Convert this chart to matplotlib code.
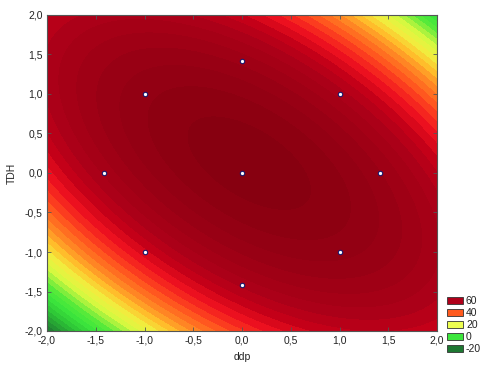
import numpy as np
import matplotlib
matplotlib.use("Agg")
import matplotlib.pyplot as plt
from matplotlib.colors import LinearSegmentedColormap
from matplotlib.patches import Rectangle
from matplotlib.ticker import FuncFormatter

# Quadratic response-surface coefficients
# z = b0 + b1*x + b2*y + b11*x^2 + b22*y^2 + b12*x*y
coef_names = ["b0", "b1", "b2", "b11", "b22", "b12"]
coef_values = [77.5, 2.0, 2.5, -6.6, -7.6, -8.2]

# design points (ddp, TDH)
design_ddp = [-1.0, 1.0, -1.0, 1.0, -1.414, 1.414, 0.0, 0.0, 0.0]
design_tdh = [-1.0, -1.0, 1.0, 1.0, 0.0, 0.0, -1.414, 1.414, 0.0]

legend_levels = [60, 40, 20, 0, -20]
contour_step = 3.0
x_label = "ddp"
y_label = "TDH"

plt.rcParams['font.family'] = ['Liberation Sans', 'DejaVu Sans']

b0, b1, b2, b11, b22, b12 = coef_values
xg = np.linspace(-2, 2, 400)
yg = np.linspace(-2, 2, 400)
X, Y = np.meshgrid(xg, yg)
Z = b0 + b1 * X + b2 * Y + b11 * X**2 + b22 * Y**2 + b12 * X * Y

vmin, vmax = -26.0, 80.0
anchors = [(-26, "#0c5a24"), (-20, "#1e7832"), (-8, "#2cc236"), (0, "#3ce63c"),
           (6, "#58ea3a"), (14, "#d4f840"), (20, "#f0f040"), (26, "#ffc02c"),
           (32, "#ff8a24"), (40, "#ff4a1e"), (47, "#f01220"), (53, "#c80018"),
           (59, "#ac0018"), (80, "#82000f")]
cmap = LinearSegmentedColormap.from_list(
    "stat", [((v - vmin) / (vmax - vmin), c) for v, c in anchors])

fig = plt.figure(figsize=(4.99, 3.68), dpi=100)
ax = fig.add_axes([47 / 499, (368 - 331) / 368, 390 / 499, 316 / 368])

levels = np.arange(-26, 81, contour_step)
ax.contourf(X, Y, Z, levels=levels, cmap=cmap, vmin=vmin, vmax=vmax, antialiased=False)
ax.scatter(design_ddp, design_tdh, s=10, facecolor="white", edgecolor="#1a1a6e",
           linewidth=0.8, zorder=5)

ax.set_xlim(-2, 2)
ax.set_ylim(-2, 2)
ticks = np.arange(-2, 2.01, 0.5)
ax.set_xticks(ticks)
ax.set_yticks(ticks)
fmt = FuncFormatter(lambda v, p: f"{v:.1f}".replace(".", ",").replace("-0,0", "0,0"))
ax.xaxis.set_major_formatter(fmt)
ax.yaxis.set_major_formatter(fmt)
ax.tick_params(direction="in", length=3, width=0.6, colors="#555555",
               labelcolor="#222222", labelsize=7.5, top=True, right=True, pad=3)
for s in ax.spines.values():
    s.set_color("#555555")
    s.set_linewidth(0.8)
ax.set_xlabel(x_label, fontsize=7.5, color="#222222", labelpad=5)
ax.set_ylabel(y_label, fontsize=7.5, color="#222222", labelpad=6)

# legend
W, H = 499.0, 368.0
legend_colors = {60: "#b0001a", 40: "#ff5a1e", 20: "#eeff50", 0: "#3ce63c", -20: "#1e7832"}
for i, lv in enumerate(legend_levels):
    ytop = 297 + i * 12.0
    fig.add_artist(Rectangle((447 / W, 1 - (ytop + 7) / H), 16 / W, 7 / H,
                             transform=fig.transFigure, facecolor=legend_colors[lv],
                             edgecolor="#333333", linewidth=0.6))
    fig.text(466 / W, 1 - (ytop + 3.5) / H, str(lv), fontsize=7.5, va="center",
             ha="left", color="#222222")

fig.savefig("out.png", dpi=100)
